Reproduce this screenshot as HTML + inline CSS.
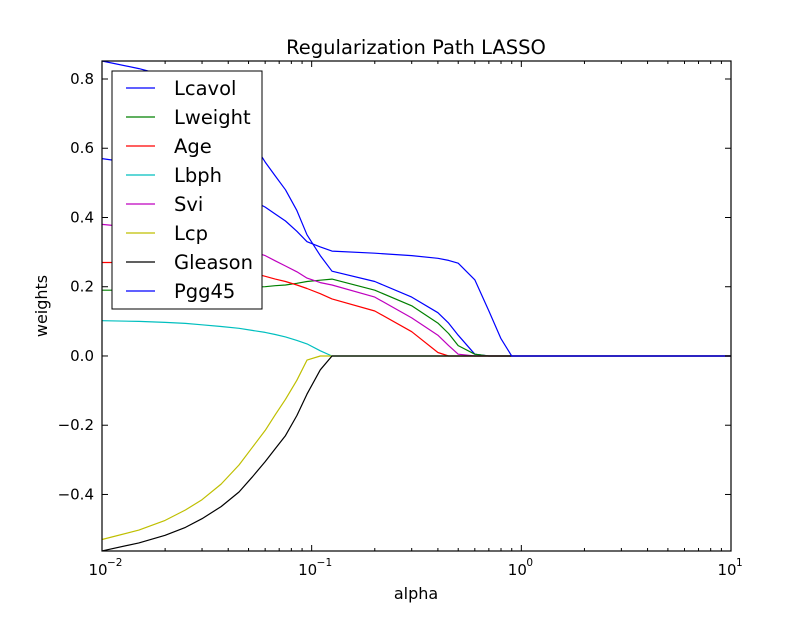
<!DOCTYPE html>
<html><head><meta charset="utf-8"><style>
body{margin:0;background:#fff;}
svg text{font-family:"DejaVu Sans","Liberation Sans",sans-serif;}
</style></head><body>
<svg id="chart" width="812" height="612" viewBox="0 0 812 612" xmlns="http://www.w3.org/2000/svg">
<rect width="812" height="612" fill="#fff"/>
<text x="416" y="54" font-size="19.5" text-anchor="middle">Regularization Path LASSO</text>
<text x="416" y="599" font-size="16" text-anchor="middle">alpha</text>
<text transform="translate(47,306) rotate(-90)" font-size="16" text-anchor="middle">weights</text>
<g id="series"></g>
<g id="axes"></g>
<g id="legend"></g>
</svg>
<script>
const alphas = [0.01,0.015,0.02,0.025,0.03,0.037,0.045,0.052,0.06,0.067,0.075,0.085,0.095,0.11,0.125,0.2,0.3,0.4,0.45,0.5,0.6,0.7,0.8,0.9,1,10];
const lcavol = [0.852,0.83,0.81,0.79,0.76,0.72,0.68,0.62,0.56,0.52,0.48,0.42,0.35,0.29,0.245,0.215,0.17,0.125,0.095,0.06,0.005,0,0,0,0,0];
const lweight = [0.19,0.19,0.19,0.192,0.195,0.197,0.198,0.199,0.2,0.203,0.205,0.21,0.215,0.219,0.222,0.19,0.145,0.095,0.065,0.03,0.005,0,0,0,0,0];
const age = [0.27,0.27,0.27,0.268,0.265,0.258,0.25,0.24,0.23,0.222,0.215,0.205,0.195,0.18,0.165,0.13,0.07,0.01,0,0,0,0,0,0,0,0];
const lbph = [0.102,0.1,0.097,0.094,0.09,0.085,0.08,0.074,0.068,0.062,0.055,0.045,0.035,0.015,0,0,0,0,0,0,0,0,0,0,0,0];
const svi = [0.38,0.37,0.36,0.35,0.34,0.328,0.315,0.302,0.29,0.275,0.26,0.243,0.225,0.212,0.205,0.17,0.11,0.06,0.03,0.005,0,0,0,0,0,0];
const lcp = [-0.53,-0.503,-0.475,-0.445,-0.415,-0.37,-0.315,-0.265,-0.215,-0.17,-0.125,-0.07,-0.012,0,0,0,0,0,0,0,0,0,0,0,0,0];
const gleason = [-0.563,-0.54,-0.518,-0.495,-0.47,-0.435,-0.393,-0.35,-0.305,-0.268,-0.23,-0.172,-0.11,-0.04,0,0,0,0,0,0,0,0,0,0,0,0];
const pgg45 = [0.57,0.555,0.54,0.525,0.51,0.49,0.47,0.45,0.43,0.41,0.39,0.36,0.33,0.315,0.303,0.297,0.29,0.282,0.276,0.268,0.22,0.13,0.05,0,0,0];
const seriesNames = ["Lcavol","Lweight","Age","Lbph","Svi","Lcp","Gleason","Pgg45"];
const yTicks = [-0.4,-0.2,0.0,0.2,0.4,0.6,0.8];
const yTickLabels = ["\u22120.4","\u22120.2","0.0","0.2","0.4","0.6","0.8"];
const xMajor = [-2,-1,0,1];

const L=102,R=731,T=61,B=551;
const yMin=-0.5633,yMax=0.852;
function xs(a){return L+(Math.log10(a)+2)/3*(R-L);}
function ys(v){return B-(v-yMin)/(yMax-yMin)*(B-T);}
const NS="http://www.w3.org/2000/svg";
function mk(tag,attrs,parent){const e=document.createElementNS(NS,tag);for(const k in attrs)e.setAttribute(k,attrs[k]);parent.appendChild(e);return e;}

const allSeries=[lcavol,lweight,age,lbph,svi,lcp,gleason,pgg45];
const colors=["#0000ff","#008000","#ff0000","#00bfbf","#bf00bf","#bfbf00","#000000","#0000ff"];
const sg=document.getElementById('series');
allSeries.forEach((s,i)=>{
  const d=s.map((v,j)=>(j?'L':'M')+xs(alphas[j]).toFixed(1)+','+ys(v).toFixed(1)).join('');
  const p=mk('path',{d:d,fill:'none',stroke:colors[i],'stroke-width':1.2,'stroke-linejoin':'round'},sg);
  
  
});

const ag=document.getElementById('axes');
const frame=mk('rect',{x:L,y:T,width:R-L,height:B-T,fill:'none',stroke:'#000','stroke-width':1.2},ag);


yTicks.forEach((v,i)=>{
  const y=ys(v);
  mk('line',{x1:L,x2:L+6,y1:y,y2:y,stroke:'#000'},ag);
  mk('line',{x1:R,x2:R-6,y1:y,y2:y,stroke:'#000'},ag);
  const t=mk('text',{x:L-8,y:y+5,'font-size':15,'text-anchor':'end'},ag);
  t.textContent=yTickLabels[i];
  
  
});
xMajor.forEach(e=>{
  const x=xs(Math.pow(10,e));
  mk('line',{x1:x,x2:x,y1:B,y2:B-6,stroke:'#000'},ag);
  mk('line',{x1:x,x2:x,y1:T,y2:T+6,stroke:'#000'},ag);
  const t=mk('text',{x:x-4,y:B+24,'font-size':15,'text-anchor':'middle'},ag);
  t.textContent='10';
  
  
  const s=mk('text',{x:x+5,y:B+15,'font-size':10.5,'text-anchor':'start'},ag);
  s.textContent=(e<0?'\u2212':'')+Math.abs(e);
  if(e<1){for(let k=2;k<10;k++){const xm=xs(k*Math.pow(10,e));
    mk('line',{x1:xm,x2:xm,y1:B,y2:B-3,stroke:'#000'},ag);
    mk('line',{x1:xm,x2:xm,y1:T,y2:T+3,stroke:'#000'},ag);}}
});

const lg=document.getElementById('legend');
const box=mk('rect',{x:112,y:71,width:150,height:238,fill:'#fff',stroke:'#000','stroke-width':1},lg);


seriesNames.forEach((n,i)=>{
  const y=88+i*29;
  mk('line',{x1:126,x2:155,y1:y,y2:y,stroke:colors[i],'stroke-width':1.2},lg);
  const t=mk('text',{x:174,y:y+7,'font-size':19.5},lg);
  t.textContent=n;
  
  
});
</script>
</body></html>
